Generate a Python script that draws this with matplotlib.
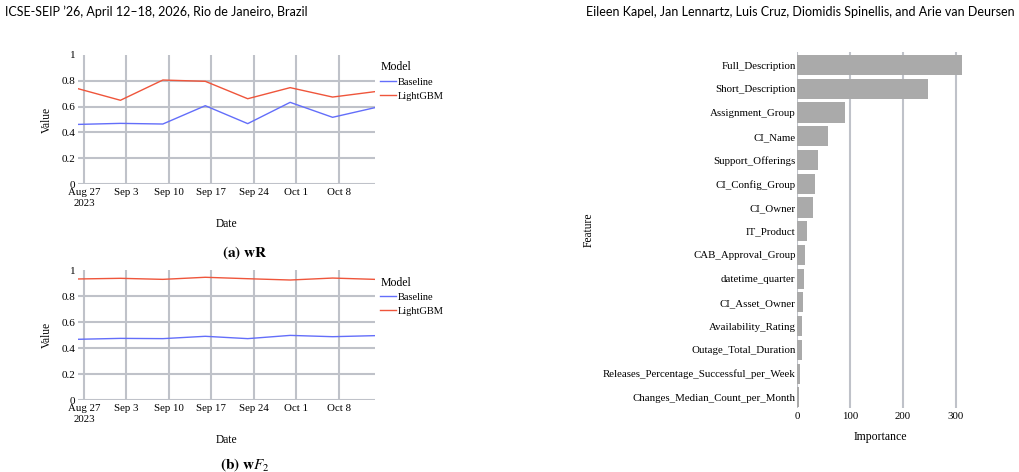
import matplotlib
matplotlib.use("Agg")
import matplotlib.pyplot as plt
import matplotlib.dates as mdates
import numpy as np
import datetime as dt

plt.rcParams['font.family'] = ['Liberation Serif', 'DejaVu Serif']
plt.rcParams['mathtext.fontset'] = 'stix'

# ---- data ----
dates = ["2023-08-26", "2023-09-02", "2023-09-09", "2023-09-16",
         "2023-09-23", "2023-09-30", "2023-10-07", "2023-10-14"]
wr_baseline = [0.462, 0.470, 0.465, 0.607, 0.468, 0.633, 0.517, 0.592]
wr_lightgbm = [0.739, 0.649, 0.806, 0.796, 0.661, 0.747, 0.674, 0.716]
wf2_baseline = [0.467, 0.474, 0.472, 0.490, 0.472, 0.497, 0.487, 0.495]
wf2_lightgbm = [0.931, 0.936, 0.928, 0.944, 0.933, 0.923, 0.938, 0.928]
tick_dates = ["2023-08-27", "2023-09-03", "2023-09-10", "2023-09-17",
              "2023-09-24", "2023-10-01", "2023-10-08"]
tick_labels = ["Aug 27\n2023", "Sep 3", "Sep 10", "Sep 17", "Sep 24", "Oct 1", "Oct 8"]
y_ticks = [0, 0.2, 0.4, 0.6, 0.8, 1]
y_ticklabels = ["0", "0.2", "0.4", "0.6", "0.8", "1"]

features = ["Full_Description", "Short_Description", "Assignment_Group", "CI_Name",
            "Support_Offerings", "CI_Config_Group", "CI_Owner", "IT_Product",
            "CAB_Approval_Group", "datetime_quarter", "CI_Asset_Owner",
            "Availability_Rating", "Outage_Total_Duration",
            "Releases_Percentage_Successful_per_Week", "Changes_Median_Count_per_Month"]
importance = [311, 247, 90.5, 58, 39, 34, 29.5, 18, 15, 13, 11, 9, 9, 6, 3.5]
imp_ticks = [0, 100, 200, 300]

BLUE = "#636efa"
RED = "#ef553b"
GRID = "#bfc2c9"
W, H = 1020, 472

fig = plt.figure(figsize=(W / 100, H / 100), dpi=100)


def px_axes(x0, y0, x1, y1):
    return fig.add_axes([x0 / W, 1 - y1 / H, (x1 - x0) / W, (y1 - y0) / H])


xd = [mdates.date2num(dt.datetime.fromisoformat(d)) for d in dates]
xt = [mdates.date2num(dt.datetime.fromisoformat(d)) for d in tick_dates]


def line_panel(ax, base, lgbm, legend_y):
    ax.set_xlim(xd[0], xd[-1])
    ax.set_ylim(0, 1)
    for t in xt:
        ax.axvline(t, color=GRID, lw=1.5, zorder=0)
    for v in y_ticks[:-1]:
        ax.axhline(v, color=GRID, lw=1.5, zorder=0)
    lb, = ax.plot(xd, base, color=BLUE, lw=1.0, label="Baseline")
    lr, = ax.plot(xd, lgbm, color=RED, lw=1.0, label="LightGBM")
    for s in ax.spines.values():
        s.set_visible(False)
    ax.set_xticks(xt)
    ax.set_xticklabels(tick_labels, fontsize=7.8, linespacing=1.25)
    ax.set_yticks(y_ticks)
    ax.set_yticklabels(y_ticklabels, fontsize=8)
    ax.tick_params(axis='x', length=0, pad=3)
    ax.tick_params(axis='y', length=0, pad=2)
    ax.set_xlabel("Date", fontsize=8.3, labelpad=7)
    ax.set_ylabel("Value", fontsize=8.3, labelpad=6)
    leg = ax.legend(handles=[lb, lr], title="Model", loc="upper left",
                    bbox_to_anchor=(1.018, legend_y), frameon=False, fontsize=7.5,
                    title_fontsize=8.5, handlelength=1.5, handletextpad=0.2,
                    labelspacing=0.45, borderaxespad=0, borderpad=0)
    leg._legend_box.align = "left"
    leg._legend_box.sep = 3


ax1 = px_axes(78, 55, 375, 184)
line_panel(ax1, wr_baseline, wr_lightgbm, 0.95)
ax2 = px_axes(78, 270, 375, 400)
line_panel(ax2, wf2_baseline, wf2_lightgbm, 0.95)

fig.text(245 / W, 1 - 253 / H, r"$\mathbf{(a)\ wR}$", ha="center", va="center", fontsize=11)
fig.text(245 / W, 1 - 465 / H, r"$\mathbf{(b)\ w}F_{2}$", ha="center", va="center", fontsize=11)

# ---- bar chart ----
ax3 = px_axes(797, 52, 964, 408)
ypos = np.arange(len(features))
ax3.barh(ypos, importance, height=0.85, color="#aaaaaa", zorder=2)
ax3.set_ylim(len(features) - 0.55, -0.55)
ax3.set_xlim(0, 315)
for t in imp_ticks:
    ax3.axvline(t, color=GRID, lw=1.5, zorder=0)
for s in ax3.spines.values():
    s.set_visible(False)
ax3.set_yticks(ypos)
ax3.set_yticklabels(features, fontsize=7.8)
ax3.set_xticks(imp_ticks)
ax3.set_xticklabels([str(t) for t in imp_ticks], fontsize=7.8)
ax3.tick_params(axis='both', length=0, pad=1)
ax3.tick_params(axis='x', pad=3)
ax3.set_xlabel("Importance", fontsize=8.5, labelpad=7)
fig.text(589 / W, 1 - 230 / H, "Feature", rotation=90, ha="center", va="center", fontsize=8.3)

# ---- page header ----
fig.text(5 / W, 1 - 12 / H, "ICSE-SEIP \u201926, April 12\u201318, 2026, Rio de Janeiro, Brazil",
         family=["Lato", "DejaVu Sans"], fontsize=9, ha="left", va="center")
fig.text(1015 / W, 1 - 12 / H,
         "Eileen Kapel, Jan Lennartz, Luis Cruz, Diomidis Spinellis, and Arie van Deursen",
         family=["Lato", "DejaVu Sans"], fontsize=9, ha="right", va="center")

fig.savefig("out.png", dpi=100)
